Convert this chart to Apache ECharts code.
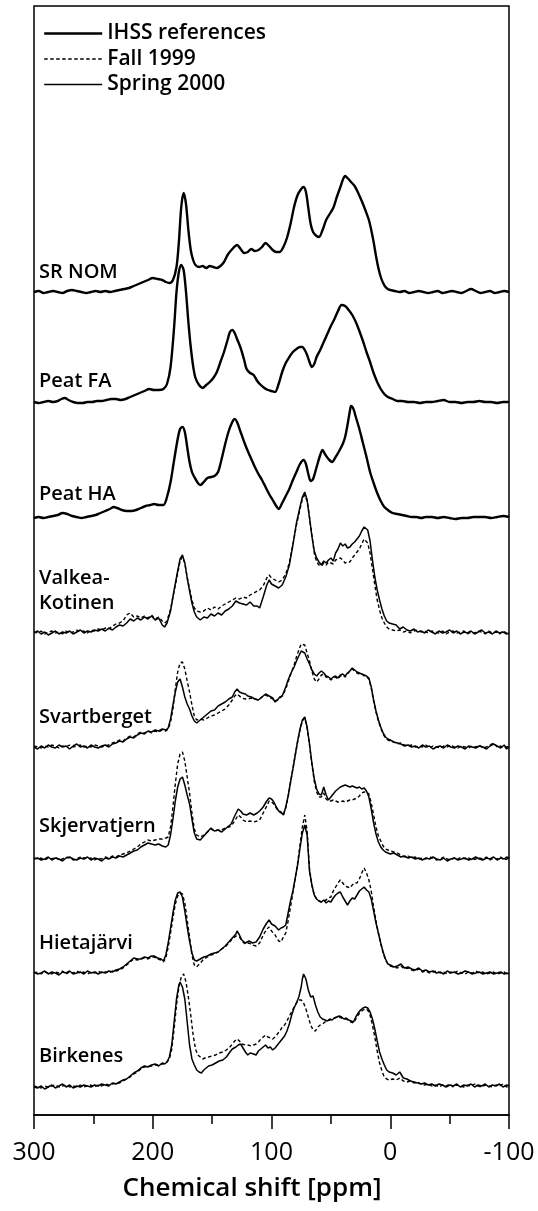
<!DOCTYPE html>
<html>
<head>
<meta charset="utf-8">
<script src="https://cdn.jsdelivr.net/npm/echarts@6/dist/echarts.min.js"></script>
<style>
html,body{margin:0;padding:0;background:#fff;}
#chart{width:538px;height:1211px;}
</style>
</head>
<body>
<div id="chart"></div>
<script>
// ---- Data: [chemical shift ppm, intensity above own baseline] ----
const srNom = [[300,0],[296,1],[292,-1],[288,0],[284,1],[280,0],[276,-1],[272,1],[268,2],[264,1],[260,0],[256,-1],[252,0],[248,1],[244,0],[240,1],[236,0],[232,1],[228,2],[224,3],[220,4],[216,6],[212,8],[208,10],[204,12],[200,14],[196,13],[192,12],[189,10],[186,9],[183,12],[180,25],[178,50],[176,85],[174,99],[172,88],[170,62],[168,42],[166,32],[164,27],[161,25],[158,26],[155,24],[152,26],[149,25],[146,24],[143,26],[140,30],[137,37],[133,43],[129,47],[126,43],[123,39],[120,40],[117,43],[114,41],[111,42],[108,45],[105,49],[102,46],[99,42],[96,40],[93,40],[90,45],[87,54],[84,68],[81,85],[78,97],[75,103],[73,105],[71,100],[69,84],[67,68],[65,60],[62,56],[60,55],[57,62],[54,72],[51,78],[48,84],[45,95],[42,105],[40,112],[38,116],[36,114],[33,110],[30,106],[27,99],[24,91],[21,82],[18,72],[16,62],[14,50],[12,36],[10,24],[8,15],[6,9],[4,5],[2,3],[0,2],[-4,1],[-8,0],[-12,1],[-16,-1],[-20,0],[-24,1],[-28,0],[-32,-1],[-36,0],[-40,1],[-44,-1],[-48,0],[-52,1],[-56,0],[-60,-1],[-64,1],[-68,3],[-72,1],[-76,-1],[-80,0],[-84,1],[-88,-1],[-92,0],[-96,1],[-100,0]];
const peatFA = [[300,0],[296,-1],[292,0],[288,1],[284,0],[280,1],[277,3],[274,4],[271,2],[267,0],[263,-1],[259,-1],[255,0],[251,0],[247,1],[243,1],[239,2],[235,3],[231,3],[227,2],[223,3],[219,5],[215,7],[211,9],[207,11],[203,13],[199,12],[195,12],[191,13],[188,18],[185,35],[182,75],[180,110],[178,130],[176,137],[174,132],[172,110],[170,80],[168,55],[166,36],[164,24],[161,17],[158,14],[155,17],[152,20],[149,24],[146,30],[143,40],[140,50],[137,62],[135,70],[133,72],[131,69],[129,63],[126,54],[123,42],[121,33],[118,29],[115,27],[112,21],[109,17],[106,14],[103,12],[100,11],[97,10],[94,18],[91,30],[88,39],[85,45],[82,50],[79,53],[76,55],[74,55],[72,52],[70,47],[68,40],[66,35],[64,38],[62,45],[59,52],[56,60],[53,68],[50,76],[47,83],[44,91],[41,97],[38,96],[35,92],[32,87],[29,80],[26,71],[23,61],[20,50],[17,40],[14,29],[11,20],[8,13],[5,8],[2,5],[-2,3],[-6,1],[-10,1],[-15,0],[-20,0],[-25,-1],[-30,0],[-35,0],[-40,1],[-45,2],[-50,0],[-55,0],[-60,-1],[-65,0],[-70,0],[-75,1],[-80,0],[-85,0],[-90,-1],[-95,0],[-100,0]];
const peatHA = [[300,-1],[296,0],[292,-1],[288,0],[284,1],[280,2],[276,4],[272,3],[268,1],[264,0],[260,-1],[256,0],[252,1],[248,2],[244,4],[240,6],[236,8],[233,10],[230,9],[226,7],[222,6],[218,6],[214,7],[210,9],[206,11],[202,12],[199,13],[195,12],[191,12],[188,20],[185,35],[182,57],[179,78],[177,88],[175,90],[173,85],[171,70],[169,55],[167,45],[165,40],[162,34],[160,32],[157,35],[154,39],[151,40],[148,41],[145,45],[142,58],[139,73],[136,86],[133,95],[131,98],[129,95],[126,85],[123,75],[120,66],[117,58],[114,50],[111,43],[108,37],[105,30],[102,23],[99,17],[96,11],[94,8],[91,14],[88,21],[85,28],[82,37],[79,45],[76,53],[73,57],[71,53],[69,43],[67,36],[65,38],[62,50],[59,62],[57,67],[55,63],[52,58],[49,55],[46,60],[43,66],[40,73],[38,80],[36,92],[34,106],[33,111],[31,108],[29,100],[26,88],[23,74],[20,60],[17,45],[14,34],[11,24],[8,16],[5,10],[2,7],[-2,4],[-6,3],[-10,2],[-14,1],[-18,0],[-22,0],[-26,-1],[-30,0],[-35,0],[-40,-1],[-45,0],[-50,-1],[-55,-2],[-60,-1],[-65,-1],[-70,0],[-75,0],[-80,0],[-85,-1],[-90,0],[-95,1],[-100,0]];

const vkSpring = [[300,0],[297,2],[294,-1],[291,1],[288,-2],[285,0],[282,2],[279,-1],[276,1],[273,0],[270,2],[267,-1],[264,1],[261,3],[258,0],[255,2],[252,1],[249,3],[246,2],[243,4],[240,2],[237,5],[234,3],[231,6],[228,8],[225,7],[222,10],[219,14],[216,12],[213,15],[210,13],[207,16],[204,14],[201,17],[198,13],[195,15],[192,8],[190,6],[188,10],[185,22],[182,43],[179,62],[177,74],[175,78],[173,70],[171,55],[169,42],[167,30],[165,21],[163,16],[160,13],[157,16],[154,15],[151,19],[148,17],[145,20],[142,18],[139,22],[136,24],[133,27],[130,32],[127,30],[124,29],[121,28],[118,31],[115,27],[112,27],[110,25],[107,36],[104,48],[102,53],[100,49],[97,47],[94,45],[91,48],[88,56],[85,68],[82,88],[79,110],[76,126],[74,136],[72,141],[70,133],[68,115],[66,97],[64,82],[62,75],[60,71],[58,68],[56,72],[54,70],[52,73],[50,75],[48,72],[46,80],[44,84],[42,90],[40,87],[38,89],[36,85],[34,86],[32,89],[30,91],[28,94],[26,97],[24,102],[22,106],[21,108],[19,103],[17,92],[15,73],[13,56],[11,43],[9,33],[7,24],[5,17],[3,12],[1,10],[-2,9],[-5,8],[-8,4],[-11,6],[-14,3],[-17,2],[-20,4],[-23,1],[-26,2],[-29,0],[-32,3],[-35,1],[-38,-1],[-41,2],[-44,0],[-47,1],[-50,3],[-53,0],[-56,2],[-59,-1],[-62,1],[-65,0],[-68,2],[-71,-1],[-74,1],[-77,3],[-80,0],[-83,1],[-86,-1],[-89,2],[-92,0],[-95,1],[-98,-1],[-100,0]];
const vkFall = [[300,1],[297,0],[294,2],[291,-1],[288,1],[285,2],[282,0],[279,1],[276,-1],[273,2],[270,0],[267,1],[264,3],[261,1],[258,2],[255,0],[252,3],[249,2],[246,4],[243,3],[240,5],[237,4],[234,7],[231,9],[228,10],[225,12],[222,18],[219,20],[216,16],[213,17],[210,15],[207,17],[204,15],[201,18],[198,14],[195,16],[192,12],[190,10],[188,12],[185,24],[182,42],[179,60],[177,72],[175,76],[173,70],[171,56],[169,44],[167,33],[165,25],[163,22],[160,21],[157,22],[154,25],[151,23],[148,26],[145,24],[142,27],[139,29],[136,31],[133,33],[130,35],[127,34],[124,36],[121,35],[118,38],[115,40],[112,42],[110,43],[107,47],[104,55],[102,58],[100,55],[97,53],[94,51],[91,53],[88,59],[85,70],[82,88],[79,108],[76,124],[74,134],[72,138],[70,132],[68,116],[66,98],[64,80],[62,71],[60,68],[58,67],[56,70],[54,68],[52,71],[50,70],[48,69],[46,73],[44,74],[42,75],[40,73],[38,70],[36,71],[34,71],[32,75],[30,78],[28,81],[26,84],[24,89],[22,94],[21,95],[19,90],[17,80],[15,64],[13,48],[11,33],[9,23],[7,15],[5,10],[3,6],[1,4],[-2,3],[-5,2],[-8,3],[-11,1],[-14,2],[-17,0],[-20,2],[-23,3],[-26,1],[-29,2],[-32,0],[-35,2],[-38,1],[-41,0],[-44,2],[-47,-1],[-50,1],[-53,2],[-56,0],[-59,1],[-62,2],[-65,-1],[-68,1],[-71,0],[-74,2],[-77,1],[-80,-1],[-83,2],[-86,0],[-89,1],[-92,-1],[-95,2],[-98,0],[-100,1]];

const svSpring = [[300,0],[297,-2],[294,1],[291,-1],[288,2],[285,0],[282,-1],[279,2],[276,0],[273,1],[270,-2],[267,1],[264,3],[261,0],[258,1],[255,-1],[252,2],[249,0],[246,-1],[243,1],[240,2],[237,0],[234,3],[231,4],[228,6],[225,5],[222,8],[219,10],[216,9],[213,12],[210,14],[207,13],[204,16],[201,15],[198,17],[195,16],[192,18],[189,17],[187,19],[185,28],[183,42],[181,55],[179,65],[177,68],[175,60],[173,50],[171,43],[169,38],[167,31],[165,26],[163,24],[160,27],[157,30],[154,33],[151,36],[148,37],[145,41],[142,43],[139,45],[136,48],[133,50],[131,55],[129,58],[127,55],[125,54],[122,53],[120,51],[117,50],[114,48],[111,47],[108,50],[105,53],[102,51],[99,49],[97,45],[95,47],[93,50],[91,51],[88,60],[86,67],[84,73],[81,80],[79,86],[77,91],[75,96],[74,97],[72,94],[70,88],[68,83],[66,77],[64,73],[62,71],[60,74],[58,76],[56,74],[54,71],[52,70],[50,68],[48,70],[46,71],[44,69],[42,72],[40,73],[38,71],[36,74],[34,76],[32,79],[30,77],[28,75],[26,74],[24,73],[22,72],[20,71],[18,69],[16,60],[14,47],[12,36],[10,27],[8,20],[6,14],[4,10],[2,8],[0,7],[-3,5],[-6,4],[-9,3],[-12,1],[-15,2],[-18,0],[-21,1],[-24,-1],[-27,2],[-30,0],[-33,1],[-36,-2],[-39,0],[-42,1],[-45,-1],[-48,2],[-51,0],[-54,-1],[-57,1],[-60,0],[-63,-2],[-66,1],[-69,0],[-72,-1],[-75,1],[-78,0],[-81,-2],[-84,1],[-87,3],[-90,1],[-93,-1],[-96,2],[-98,-2],[-100,0]];
const svFall = [[300,1],[297,0],[294,-1],[291,1],[288,0],[285,2],[282,1],[279,-1],[276,1],[273,0],[270,2],[267,0],[264,1],[261,2],[258,0],[255,1],[252,0],[249,2],[246,1],[243,0],[240,1],[237,2],[234,4],[231,5],[228,7],[225,6],[222,9],[219,11],[216,10],[213,13],[210,15],[207,14],[204,16],[201,14],[198,16],[195,15],[192,17],[189,16],[187,18],[185,25],[183,38],[181,58],[179,75],[177,84],[175,85],[173,78],[171,66],[169,55],[167,42],[165,31],[163,27],[160,28],[157,27],[154,29],[151,31],[148,32],[145,34],[142,36],[139,38],[136,42],[133,47],[131,51],[129,53],[127,51],[125,49],[122,48],[120,48],[117,49],[114,48],[111,47],[108,50],[105,52],[102,50],[99,48],[97,46],[95,47],[93,49],[91,51],[88,58],[86,65],[84,72],[81,82],[79,90],[77,97],[75,103],[74,105],[72,102],[70,94],[68,86],[66,76],[64,68],[62,65],[60,68],[58,72],[56,73],[54,70],[52,69],[50,67],[48,69],[46,70],[44,68],[42,71],[40,72],[38,70],[36,73],[34,76],[32,78],[30,76],[28,74],[26,73],[24,73],[22,71],[20,70],[18,68],[16,59],[14,46],[12,35],[10,26],[8,19],[6,13],[4,9],[2,7],[0,6],[-3,5],[-6,3],[-9,4],[-12,2],[-15,1],[-18,2],[-21,0],[-24,1],[-27,0],[-30,2],[-33,-1],[-36,1],[-39,0],[-42,-1],[-45,1],[-48,0],[-51,2],[-54,0],[-57,-1],[-60,1],[-63,0],[-66,-1],[-69,1],[-72,0],[-75,2],[-78,-1],[-81,0],[-84,2],[-87,4],[-90,0],[-93,1],[-96,-1],[-98,0],[-100,1]];

const skSpring = [[300,0],[297,1],[294,-1],[291,0],[288,2],[285,-1],[282,1],[279,0],[276,-2],[273,1],[270,2],[267,0],[264,-1],[261,1],[258,0],[255,2],[252,-1],[249,1],[246,0],[243,-2],[240,1],[237,0],[234,2],[231,1],[228,3],[225,2],[222,4],[219,6],[216,8],[213,9],[210,12],[207,14],[204,16],[201,15],[198,14],[195,15],[192,13],[189,12],[187,14],[185,24],[183,40],[181,58],[179,72],[177,80],[175,82],[173,74],[171,64],[169,55],[167,40],[165,26],[163,20],[160,19],[157,23],[154,27],[151,31],[148,28],[145,29],[142,27],[139,30],[136,33],[134,35],[131,43],[128,50],[126,48],[124,45],[121,44],[118,46],[115,44],[112,46],[110,48],[107,52],[104,58],[102,61],[100,60],[98,57],[96,52],[94,48],[92,47],[90,44],[88,52],[86,63],[84,77],[82,90],[80,104],[78,118],[76,130],[74,139],[72,142],[70,132],[68,115],[66,96],[64,80],[62,70],[60,65],[58,64],[56,72],[54,64],[52,59],[50,62],[48,65],[46,68],[44,70],[42,72],[40,73],[38,74],[36,73],[34,72],[32,73],[30,72],[28,71],[26,72],[24,70],[22,71],[20,68],[18,62],[16,50],[14,36],[12,25],[10,17],[8,12],[6,9],[4,7],[2,6],[0,5],[-3,6],[-6,4],[-9,2],[-12,3],[-15,1],[-18,2],[-21,0],[-24,1],[-27,-1],[-30,1],[-33,0],[-36,2],[-39,0],[-42,-1],[-45,1],[-48,-2],[-51,0],[-54,1],[-57,-1],[-60,0],[-63,1],[-66,-1],[-69,0],[-72,2],[-75,0],[-78,-1],[-81,1],[-84,0],[-87,2],[-90,-1],[-93,1],[-96,0],[-98,2],[-100,1]];
const skFall = [[300,1],[297,0],[294,1],[291,-1],[288,1],[285,0],[282,2],[279,-1],[276,0],[273,2],[270,1],[267,-1],[264,0],[261,2],[258,1],[255,0],[252,1],[249,-1],[246,1],[243,0],[240,2],[237,1],[234,3],[231,2],[228,4],[225,5],[222,6],[219,8],[216,10],[213,12],[210,15],[207,17],[204,19],[201,18],[198,19],[195,20],[192,20],[189,21],[187,22],[185,32],[183,52],[181,75],[179,95],[177,105],[175,107],[173,98],[171,82],[169,66],[167,46],[165,30],[163,24],[160,22],[157,24],[154,27],[151,30],[148,28],[145,29],[142,29],[139,31],[136,32],[134,33],[131,38],[128,44],[126,42],[124,39],[121,37],[118,38],[115,37],[112,38],[110,39],[107,46],[104,53],[102,58],[100,57],[98,55],[96,51],[94,48],[92,46],[90,44],[88,51],[86,62],[84,76],[82,90],[80,104],[78,117],[76,129],[74,138],[72,141],[70,131],[68,114],[66,95],[64,78],[62,67],[60,62],[58,62],[56,66],[54,60],[52,58],[50,58],[48,59],[46,58],[44,57],[42,57],[40,58],[38,57],[36,58],[34,59],[32,59],[30,60],[28,61],[26,63],[24,66],[22,67],[20,67],[18,65],[16,56],[14,44],[12,32],[10,23],[8,18],[6,13],[4,10],[2,9],[0,8],[-3,7],[-6,6],[-9,4],[-12,2],[-15,3],[-18,1],[-21,2],[-24,0],[-27,1],[-30,0],[-33,2],[-36,1],[-39,-1],[-42,0],[-45,2],[-48,0],[-51,-1],[-54,1],[-57,0],[-60,2],[-63,0],[-66,1],[-69,-1],[-72,0],[-75,1],[-78,0],[-81,2],[-84,-1],[-87,1],[-90,0],[-93,2],[-96,-1],[-98,0],[-100,1]];

const hjSpring = [[300,1],[297,-1],[294,0],[291,2],[288,-1],[285,1],[282,0],[279,-2],[276,1],[273,0],[270,2],[267,-1],[264,0],[261,1],[258,-1],[255,2],[252,0],[249,1],[246,-1],[243,1],[240,0],[237,2],[234,1],[231,3],[228,4],[225,6],[222,9],[219,12],[216,15],[213,14],[210,14],[207,16],[204,15],[201,17],[199,17],[196,15],[193,14],[191,12],[189,18],[187,30],[185,45],[183,60],[181,73],[179,80],[177,81],[175,76],[173,62],[171,46],[169,32],[167,20],[165,13],[163,12],[160,14],[157,16],[154,17],[151,19],[148,20],[145,21],[142,24],[139,27],[136,31],[133,35],[130,39],[129,42],[127,38],[125,33],[122,30],[119,32],[116,30],[113,31],[110,36],[107,44],[104,50],[102,53],[100,49],[97,47],[94,43],[92,45],[90,46],[88,48],[86,60],[84,72],[82,82],[80,95],[78,108],[76,125],[74,140],[72,148],[70,138],[68,102],[66,88],[64,78],[62,74],[60,72],[58,71],[56,73],[54,70],[52,72],[50,71],[48,75],[46,78],[44,80],[42,81],[40,76],[38,72],[36,68],[34,72],[32,75],[30,74],[28,78],[26,82],[24,84],[22,86],[20,83],[18,81],[16,74],[14,62],[12,50],[10,40],[8,30],[6,21],[4,14],[2,9],[0,8],[-3,6],[-6,7],[-9,9],[-12,5],[-15,6],[-18,4],[-21,3],[-24,5],[-27,2],[-30,3],[-33,1],[-36,2],[-39,0],[-42,1],[-45,-1],[-48,2],[-51,0],[-54,1],[-57,-1],[-60,0],[-63,2],[-66,1],[-69,-1],[-72,0],[-75,1],[-78,-1],[-81,0],[-84,1],[-87,-1],[-90,0],[-93,1],[-96,-1],[-98,0],[-100,-1]];
const hjFall = [[300,0],[297,1],[294,-1],[291,1],[288,0],[285,-1],[282,1],[279,0],[276,2],[273,-1],[270,1],[267,0],[264,2],[261,0],[258,1],[255,-1],[252,1],[249,0],[246,2],[243,0],[240,1],[237,0],[234,2],[231,2],[228,3],[225,5],[222,8],[219,11],[216,14],[213,13],[210,14],[207,15],[204,14],[201,16],[199,16],[196,14],[193,13],[191,11],[189,15],[187,26],[185,40],[183,55],[181,69],[179,77],[177,80],[175,79],[173,70],[171,53],[169,36],[167,18],[165,8],[163,6],[160,10],[157,14],[154,16],[151,18],[148,19],[145,21],[142,24],[139,26],[136,30],[133,34],[130,37],[129,39],[127,36],[125,32],[122,29],[119,30],[116,28],[113,27],[110,30],[107,38],[104,44],[102,46],[100,42],[97,38],[94,32],[92,31],[90,36],[88,40],[86,52],[84,66],[82,80],[80,95],[78,110],[76,128],[74,146],[72,158],[70,142],[68,104],[66,88],[64,78],[62,74],[60,72],[58,71],[56,72],[54,73],[52,75],[50,76],[48,82],[46,86],[44,90],[42,93],[40,90],[38,87],[36,86],[34,85],[32,88],[30,90],[28,90],[26,94],[24,100],[22,105],[20,100],[18,93],[16,82],[14,66],[12,52],[10,40],[8,29],[6,20],[4,13],[2,9],[0,7],[-3,6],[-6,5],[-9,7],[-12,4],[-15,5],[-18,3],[-21,2],[-24,4],[-27,1],[-30,2],[-33,0],[-36,1],[-39,2],[-42,0],[-45,1],[-48,-1],[-51,1],[-54,0],[-57,2],[-60,0],[-63,-1],[-66,1],[-69,0],[-72,2],[-75,0],[-78,1],[-81,-1],[-84,0],[-87,1],[-90,-1],[-93,0],[-96,1],[-98,-1],[-100,0]];

const bkSpring = [[300,0],[297,-1],[294,1],[291,-2],[288,0],[285,2],[282,-1],[279,1],[276,3],[273,0],[270,2],[267,-1],[264,1],[261,0],[258,2],[255,1],[252,0],[249,2],[246,1],[243,3],[240,2],[237,1],[234,4],[231,3],[228,5],[225,7],[222,8],[219,11],[216,14],[213,16],[210,19],[207,21],[204,20],[201,22],[198,23],[195,21],[192,24],[190,23],[188,25],[186,30],[184,42],[182,65],[180,88],[178,102],[177,105],[175,100],[173,88],[171,65],[169,42],[167,28],[165,22],[163,17],[161,15],[159,14],[157,17],[155,19],[153,21],[150,22],[147,24],[144,26],[141,27],[138,30],[135,35],[133,38],[130,40],[128,42],[126,43],[124,39],[122,35],[120,32],[118,34],[115,33],[113,32],[111,36],[109,38],[107,40],[105,42],[103,39],[101,40],[99,37],[97,39],[95,42],[93,45],[91,48],[89,51],[87,56],[85,63],[83,72],[81,79],[79,84],[77,90],[75,100],[74,108],[73,113],[71,108],[69,97],[67,90],[65,91],[63,82],[61,75],[59,70],[57,68],[55,67],[53,66],[51,68],[49,67],[47,69],[45,70],[43,71],[41,70],[39,68],[37,69],[35,67],[33,66],[31,65],[29,70],[27,74],[25,77],[23,79],[21,80],[19,79],[17,75],[15,68],[13,58],[11,46],[9,35],[7,28],[5,22],[3,17],[1,15],[-2,14],[-5,12],[-8,15],[-11,9],[-14,8],[-17,6],[-20,5],[-23,4],[-26,3],[-29,4],[-32,2],[-35,3],[-38,1],[-41,3],[-44,2],[-47,0],[-50,2],[-53,1],[-56,3],[-59,0],[-62,2],[-65,1],[-68,3],[-71,0],[-74,2],[-77,1],[-80,3],[-83,0],[-86,2],[-89,1],[-92,3],[-95,0],[-98,2],[-100,1]];
const bkFall = [[300,1],[297,0],[294,-1],[291,1],[288,0],[285,1],[282,2],[279,0],[276,1],[273,2],[270,0],[267,1],[264,0],[261,2],[258,0],[255,1],[252,2],[249,0],[246,2],[243,1],[240,3],[237,2],[234,3],[231,4],[228,4],[225,6],[222,8],[219,10],[216,13],[213,15],[210,18],[207,20],[204,21],[201,21],[198,22],[195,22],[192,23],[190,24],[188,25],[186,28],[184,38],[182,58],[180,82],[178,100],[176,110],[174,113],[172,105],[170,90],[168,72],[166,52],[164,38],[162,32],[160,30],[158,28],[156,29],[153,30],[150,31],[147,32],[144,34],[141,35],[138,37],[135,40],[133,43],[131,46],[129,48],[127,46],[125,43],[122,42],[120,42],[117,41],[115,42],[113,43],[111,45],[109,48],[107,50],[105,52],[103,50],[101,49],[99,48],[97,50],[95,53],[93,56],[91,60],[89,62],[87,66],[85,71],[83,75],[81,80],[79,84],[77,87],[75,87],[73,84],[71,78],[69,70],[67,62],[65,57],[63,56],[61,60],[59,62],[57,63],[55,65],[53,66],[51,67],[49,68],[47,69],[45,70],[43,70],[41,69],[39,68],[37,68],[35,66],[33,65],[31,64],[29,68],[27,72],[25,75],[23,77],[21,78],[19,77],[17,72],[15,62],[13,50],[11,36],[9,24],[7,16],[5,10],[3,8],[1,7],[-2,8],[-5,7],[-8,9],[-11,6],[-14,5],[-17,6],[-20,4],[-23,5],[-26,3],[-29,2],[-32,3],[-35,1],[-38,2],[-41,0],[-44,2],[-47,1],[-50,3],[-53,0],[-56,2],[-59,1],[-62,0],[-65,2],[-68,1],[-71,3],[-74,1],[-77,0],[-80,2],[-83,1],[-86,0],[-89,2],[-92,1],[-95,3],[-98,0],[-100,1]];

// Sample names (top to bottom) and legend names
const references = ['SR NOM', 'Peat FA', 'Peat HA'];
const samples = ['Valkea-\nKotinen', 'Svartberget', 'Skjervatjern', 'Hietajärvi', 'Birkenes'];
const legendNames = ['IHSS references', 'Fall 1999', 'Spring 2000'];
const xTicks = [300, 200, 100, 0, -100];
const axisTitle = 'Chemical shift [ppm]';

// ---- Layout (vertical stacking offsets, in y-axis units) ----
const refSpectra = [srNom, peatFA, peatHA];
const sampleFall = [vkFall, svFall, skFall, hjFall, bkFall];
const sampleSpring = [vkSpring, svSpring, skSpring, hjSpring, bkSpring];
const refOffsets = [823, 713, 598];
const sampleOffsets = [482, 368, 256, 142, 28];
const labelY = [272, 381, 494, 591, 717, 826, 943, 1056];

const FONT = '"Open Sans", "DejaVu Sans", sans-serif';
const shift = (arr, off) => arr.map(p => [p[0], p[1] + off]);

const series = [];
refSpectra.forEach((s, i) => {
  series.push({
    name: legendNames[0], type: 'line', data: shift(s, refOffsets[i]),
    showSymbol: false, symbol: 'none', smooth: 0.3, silent: true, animation: false,
    itemStyle: { color: '#000' },
    lineStyle: { color: '#000', width: 2.4 }
  });
});
sampleFall.forEach((s, i) => {
  series.push({
    name: legendNames[1], type: 'line', data: shift(s, sampleOffsets[i]),
    showSymbol: false, symbol: 'none', smooth: false, silent: true, animation: false,
    itemStyle: { color: '#000' },
    lineStyle: { color: '#000', width: 1.4, type: [3.5, 2.5] }
  });
});
sampleSpring.forEach((s, i) => {
  series.push({
    name: legendNames[2], type: 'line', data: shift(s, sampleOffsets[i]),
    showSymbol: false, symbol: 'none', smooth: false, silent: true, animation: false,
    itemStyle: { color: '#000' },
    lineStyle: { color: '#000', width: 1.5 }
  });
});

const names = references.concat(samples);
const graphics = names.map((n, i) => ({
  type: 'text', x: 39, y: labelY[i], silent: true,
  style: { text: n, font: '600 20px ' + FONT, fill: '#000', verticalAlign: 'middle', lineHeight: 25 }
}));
graphics.push({
  type: 'text', x: 252, y: 1189, silent: true,
  style: { text: axisTitle, font: '600 26px ' + FONT, fill: '#000', align: 'center', verticalAlign: 'middle' }
});

const hidden = { opacity: 0, color: 'transparent', borderWidth: 0 };
const chart = echarts.init(document.getElementById('chart'), null, { renderer: 'canvas' });
chart.setOption({
  animation: false,
  backgroundColor: '#fff',
  grid: { left: 34, right: 29, top: 6, bottom: 96, show: true, borderColor: '#000', borderWidth: 1.5, containLabel: false },
  legend: {
    orient: 'vertical', left: 38, top: 18, itemWidth: 58, itemHeight: 20, itemGap: 4.5,
    selectedMode: false,
    itemStyle: hidden,
    textStyle: { fontSize: 21, fontWeight: 600, fontFamily: FONT, color: '#000' },
    data: [
      { name: legendNames[0], itemStyle: hidden, lineStyle: { width: 2.4, color: '#000' } },
      { name: legendNames[1], itemStyle: hidden, lineStyle: { width: 1.4, color: '#000', type: [3.5, 2.5] } },
      { name: legendNames[2], itemStyle: hidden, lineStyle: { width: 1.5, color: '#000' } }
    ]
  },
  xAxis: {
    type: 'value', min: -100, max: 300, interval: 100, inverse: true,
    axisLine: { show: true, lineStyle: { color: '#000', width: 1.5 } },
    axisTick: { show: true, inside: false, length: 14, lineStyle: { color: '#000', width: 1.5 } },
    minorTick: { show: true, splitNumber: 2, length: 9, lineStyle: { color: '#000', width: 1.5 } },
    splitLine: { show: false },
    axisLabel: { fontSize: 25, fontFamily: FONT, color: '#000', margin: 25,
      formatter: v => (xTicks.indexOf(v) >= 0 ? String(v) : '') }
  },
  yAxis: { type: 'value', min: 0, max: 1109, show: false, splitLine: { show: false } },
  graphic: graphics,
  series: series
});
</script>
</body>
</html>
